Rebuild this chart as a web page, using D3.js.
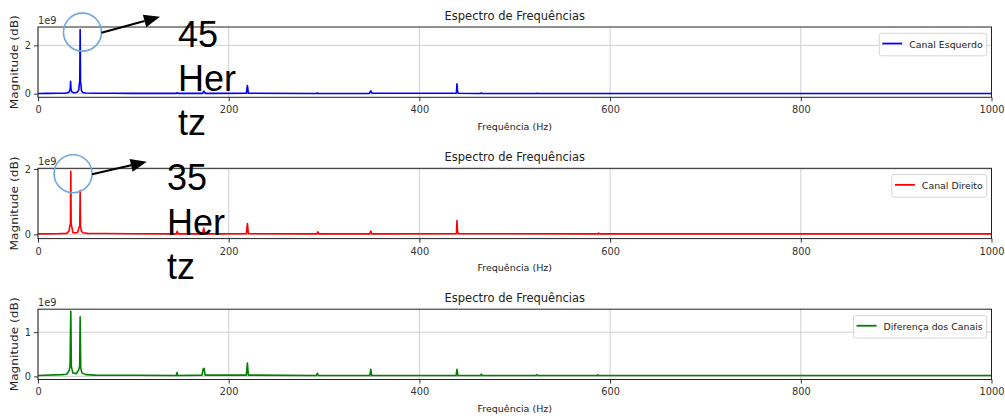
<!DOCTYPE html>
<html><head><meta charset="utf-8">
<script src="https://cdn.jsdelivr.net/npm/d3@7"></script>
<style>
body{margin:0;background:#fff;}
svg{display:block;}
text{font-family:"DejaVu Sans",sans-serif;}
text.annot{font-family:"Liberation Sans",Arial,sans-serif;}
</style></head>
<body>
<svg id="chart" width="1005" height="419"></svg>
<script>
// ---- data (magnitudes in units of 1e9) ----
const xTicks = [0, 200, 400, 600, 800, 1000];
const yTicksLeft = [0, 2];
const yTicksRight = [0, 2];
const yTicksDiff = [0, 1];
const seriesNames = ["Canal Esquerdo", "Canal Direito", "Diferença dos Canais"];
const chartTitle = "Espectro de Frequências";
const xLabel = "Frequência (Hz)";
const yLabel = "Magnitude (dB)";
const offsetLabel = "1e9";

const leftSeries = [[0,0.01],[10,0.012],[20,0.015],[28,0.02],[31,0.04],[32.8,0.08],[33.8,0.2],[34.2,0.51],[34.6,0.18],[35.5,0.07],[38,0.04],[41,0.06],[42.8,0.15],[43.4,0.45],[43.8,0.48],[44.2,2.65],[44.6,0.46],[45.0,0.4],[45.6,0.12],[47,0.05],[50,0.03],[60,0.02],[80,0.015],[100,0.012],[145,0.012],[146,0.04],[147,0.012],[172.5,0.012],[174,0.1],[175.5,0.012],[218.5,0.015],[219.6,0.34],[220.6,0.02],[292,0.01],[293,0.03],[294,0.01],[347.5,0.01],[349,0.12],[350.5,0.015],[438.8,0.015],[439.4,0.41],[440,0.1],[440.8,0.015],[464,0.01],[465,0.025],[466,0.01],[522,0.01],[523,0.02],[524,0.01],[700,0.01],[1000,0.01]];

const rightSeries = [[0,0.015],[20,0.02],[30,0.03],[32.5,0.1],[33.5,0.28],[34,0.3],[34.4,1.93],[34.8,0.3],[35.3,0.25],[36.5,0.06],[39,0.04],[41.5,0.06],[43,0.2],[43.8,0.27],[44.2,1.34],[44.6,0.25],[45.5,0.1],[47,0.05],[52,0.03],[70,0.025],[100,0.02],[145,0.015],[146,0.09],[147,0.015],[172.5,0.015],[173.8,0.19],[175,0.015],[218.5,0.02],[219.6,0.33],[220.6,0.02],[292.5,0.015],[293.5,0.08],[294.5,0.015],[348,0.015],[349,0.1],[350,0.015],[438.8,0.02],[439.4,0.42],[440,0.1],[440.8,0.02],[587,0.015],[588,0.04],[589,0.015],[1000,0.015]];

const diffSeries = [[0,0.02],[25,0.04],[30,0.05],[32.5,0.12],[33.6,0.23],[34.4,1.47],[35,0.22],[36.5,0.08],[40,0.06],[42.5,0.14],[43.7,0.23],[44.2,1.35],[44.8,0.2],[46,0.08],[50,0.04],[60,0.03],[100,0.025],[145,0.02],[145.8,0.09],[146.6,0.02],[172,0.03],[173.2,0.17],[174.2,0.18],[175.2,0.03],[218.5,0.03],[219.6,0.3],[220.6,0.03],[292,0.02],[293,0.07],[294,0.02],[348,0.02],[349,0.16],[350,0.02],[438.5,0.02],[439.4,0.16],[440.4,0.02],[464,0.02],[465,0.05],[466,0.02],[522,0.02],[523,0.04],[524,0.02],[586,0.02],[587,0.035],[588,0.02],[1000,0.02]];

const annotations = [["45", "Her", "tz"], ["35", "Her", "tz"]];

// ---- layout ----
const svg = d3.select("#chart");
const L = 38, R = 991.5, PH = 70.3;
const panels = [
  {top: 27,    data: leftSeries,  color: "#0000ff", name: seriesNames[0], yTicks: yTicksLeft,  yDomain: [-0.15, 2.76]},
  {top: 168.3, data: rightSeries, color: "#ff0000", name: seriesNames[1], yTicks: yTicksRight, yDomain: [-0.13, 2.02]},
  {top: 309.2, data: diffSeries,  color: "#008000", name: seriesNames[2], yTicks: yTicksDiff,  yDomain: [-0.07, 1.52]}
];
const x = d3.scaleLinear().domain([0, 1000]).range([L, R]);

panels.forEach((p, i) => {
  const y = d3.scaleLinear().domain(p.yDomain).range([p.top + PH, p.top]);
  p.y = y;
  const g = svg.append("g");
  // grid
  g.selectAll(".gx").data(xTicks).enter().append("line")
    .attr("x1", d => x(d)).attr("x2", d => x(d)).attr("y1", p.top).attr("y2", p.top + PH)
    .attr("stroke", "#cfcfcf").attr("stroke-width", 1);
  g.selectAll(".gy").data(p.yTicks).enter().append("line")
    .attr("x1", L).attr("x2", R).attr("y1", d => y(d)).attr("y2", d => y(d))
    .attr("stroke", "#cfcfcf").attr("stroke-width", 1);
  // line
  g.append("path").datum(p.data)
    .attr("d", d3.line().x(d => x(d[0])).y(d => y(d[1])))
    .attr("fill", "none").attr("stroke", p.color).attr("stroke-width", 1.6)
    .attr("stroke-linejoin", "round");
  // axes
  const xa = g.append("g").attr("transform", `translate(0,${p.top + PH})`)
    .call(d3.axisBottom(x).tickValues(xTicks).tickSize(4).tickPadding(5).tickFormat(d3.format("d")));
  const ya = g.append("g").attr("transform", `translate(${L},0)`)
    .call(d3.axisLeft(y).tickValues(p.yTicks).tickSize(4).tickPadding(3).tickFormat(d3.format("d")));
  [xa, ya].forEach(a => {
    a.select(".domain").remove();
    a.selectAll("line").attr("stroke", "#333");
    a.selectAll("text").attr("font-size", "9.8px").attr("fill", "#333").attr("font-family", "DejaVu Sans");
  });
  // frame
  g.append("rect").attr("x", L).attr("y", p.top).attr("width", R - L).attr("height", PH)
    .attr("fill", "none").attr("stroke", "#222").attr("stroke-width", 1);
  // offset text
  g.append("text").attr("x", L).attr("y", p.top - 3).attr("font-size", "9.8px").attr("fill", "#333").text(offsetLabel);
  // title
  g.append("text").attr("x", (L + R) / 2).attr("y", p.top - 7.5).attr("text-anchor", "middle")
    .attr("font-size", "11.5px").attr("fill", "#222").text(chartTitle);
  // xlabel
  g.append("text").attr("x", (L + R) / 2).attr("y", p.top + PH + 32.5).attr("text-anchor", "middle")
    .attr("font-size", "9.5px").attr("fill", "#222").text(xLabel);
  // ylabel
  const cy = p.top + PH / 2;
  g.append("text").attr("transform", `translate(18,${cy}) rotate(-90)`).attr("text-anchor", "middle")
    .attr("font-size", "10px").attr("fill", "#222")
    .attr("textLength", 94).attr("lengthAdjust", "spacingAndGlyphs").text(yLabel);
  // legend
  const lg = g.append("g");
  const t = lg.append("text").attr("font-size", "9.4px").attr("fill", "#222").text(p.name);
  const tw = t.node().getComputedTextLength();
  const boxR = R - 4.8, boxT = p.top + 6.3, boxH = 22.5;
  const boxW = tw + 34;
  const boxL = boxR - boxW;
  lg.insert("rect", "text").attr("x", boxL).attr("y", boxT).attr("width", boxW).attr("height", boxH)
    .attr("rx", 2).attr("fill", "#fff").attr("fill-opacity", 0.85).attr("stroke", "#d6d6d6").attr("stroke-width", 1);
  lg.append("line").attr("x1", boxL + 3).attr("x2", boxL + 23).attr("y1", boxT + boxH / 2 - 1).attr("y2", boxT + boxH / 2 - 1)
    .attr("stroke", p.color).attr("stroke-width", 1.8);
  t.attr("x", boxL + 30).attr("y", boxT + boxH / 2 + 3);
});

// ---- annotations (overlay on peaks) ----
const peaks = [
  {panel: 0, f: 44.2, m: 2.65, textX: 178, baselines: [46.7, 90.5, 134.5], tip: [160, 16.7]},
  {panel: 1, f: 34.4, m: 1.93, textX: 167, baselines: [190, 234.5, 279], tip: [146.7, 161.7]}
];
peaks.forEach((a, i) => {
  const p = panels[a.panel];
  const cx = x(a.f) + 2.3, cy = p.y(a.m) + 2.5, r = 19;
  svg.append("circle").attr("cx", cx).attr("cy", cy).attr("r", r)
    .attr("fill", "none").attr("stroke", "#6fa8dc").attr("stroke-width", 1.6);
  const sx = cx + r, sy = cy + 0.6;
  const [tx, ty] = a.tip;
  const ang = Math.atan2(ty - sy, tx - sx);
  const hl = 16, hw = 6.5;
  const bx = tx - hl * Math.cos(ang), by = ty - hl * Math.sin(ang);
  svg.append("line").attr("x1", sx).attr("y1", sy).attr("x2", bx).attr("y2", by)
    .attr("stroke", "#000").attr("stroke-width", 2);
  const nx = -Math.sin(ang), ny = Math.cos(ang);
  svg.append("path").attr("d", `M${tx},${ty}L${bx + nx * hw},${by + ny * hw}L${bx - nx * hw},${by - ny * hw}Z`).attr("fill", "#000");
  annotations[i].forEach((s, k) => {
    svg.append("text").attr("class", "annot").attr("x", a.textX).attr("y", a.baselines[k])
      .style("font-size", "36px").attr("fill", "#000").text(s);
  });
});
</script>
</body></html>
